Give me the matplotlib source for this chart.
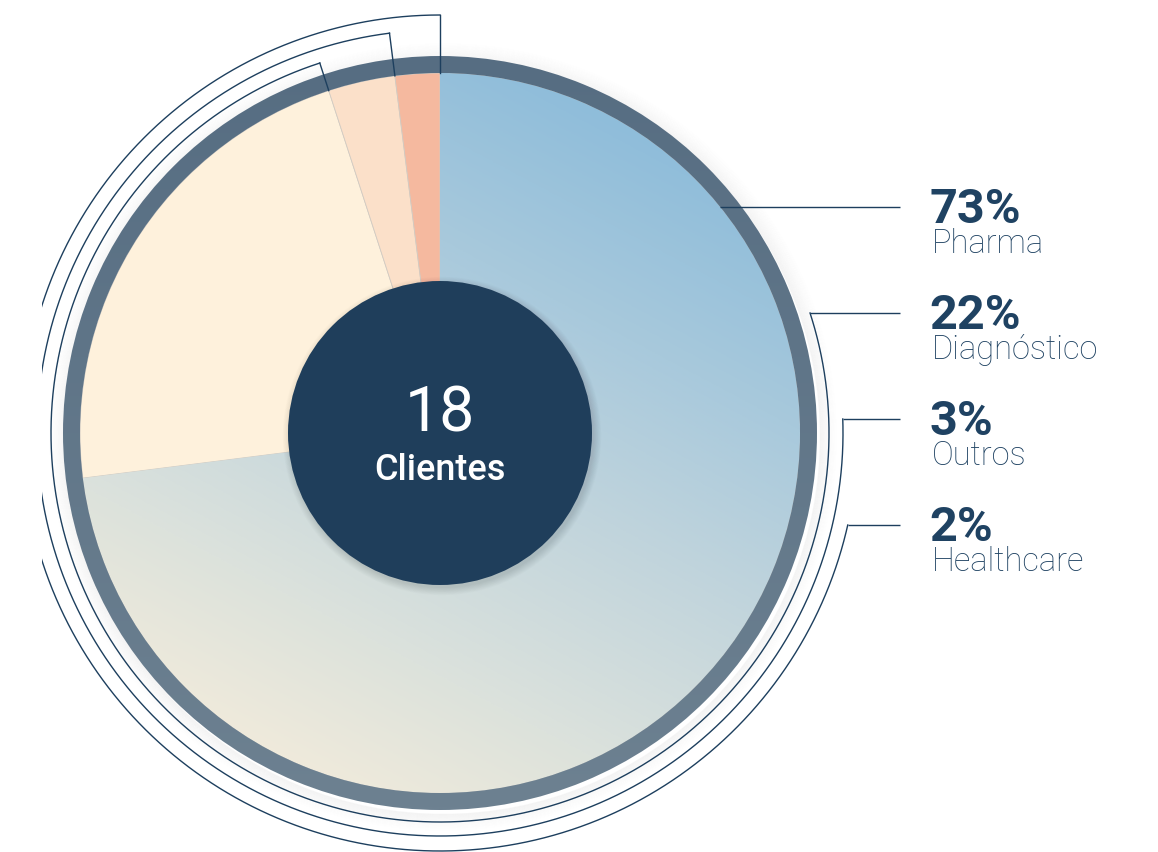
import numpy as np
import matplotlib.pyplot as plt
from matplotlib.patches import Circle, Wedge, Rectangle
from matplotlib.colors import LinearSegmentedColormap

# ---- data ----
categories = ["Pharma", "Diagnóstico", "Outros", "Healthcare"]
shares = [73, 22, 3, 2]
pct_labels = ["73%", "22%", "3%", "2%"]
total_clients = "18"
center_label = "Clientes"

# ---- canvas in pixel units (y up) ----
W, H = 1158, 853
fig = plt.figure(figsize=(W / 100, H / 100), dpi=100)
ax = fig.add_axes([0, 0, 1, 1])

cx, cy = 440, H - 434
R = 360
ring_w = 17
navy = "#1d3f5e"
text_navy = "#1f4262"

plt.rcParams["font.family"] = ["Roboto", "DejaVu Sans"]

# soft shadow outside the ring
for k in range(18):
    a = 0.07 * (1 - k / 18) ** 1.5
    ax.add_patch(Wedge((cx + 3, cy - 4), R + ring_w + k + 1, 0, 360, width=1.2,
                       facecolor="#7a7a7a", edgecolor="none", alpha=a, zorder=1))

# pie slices, clockwise from 12 o'clock
slice_colors = ["none", "#fef1dc", "#fbe0c9", "#f5b99f"]
wedges, _ = ax.pie(shares, center=(cx, cy), radius=R, startangle=90,
                   counterclock=False, colors=slice_colors, frame=True,
                   wedgeprops=dict(linewidth=0.6, edgecolor="#d2cbc2", zorder=2))

# gradient fill for the Pharma slice
grad = LinearSegmentedColormap.from_list(
    "pharma", [(0.0, "#8fbdda"), (0.26, "#a8c9dc"), (0.5, "#c0d4dc"),
               (0.8, "#dce2dc"), (1.0, "#efeadb")])
n = 600
xs = np.linspace(cx - R, cx + R, n)
ys = np.linspace(cy - R, cy + R, n)
X, Y = np.meshgrid(xs, ys)
ang = np.deg2rad(62)
proj = ((X - cx) * -np.cos(ang) + (Y - cy) * -np.sin(ang)) / R
T = np.clip(proj * 0.5 + 0.5, 0, 1)
im = ax.imshow(T, cmap=grad, extent=(cx - R, cx + R, cy - R, cy + R),
               origin="lower", zorder=2.1, interpolation="bilinear")
im.set_clip_path(wedges[0])

# outer ring with a slight vertical gradient
ring = Wedge((cx, cy), R + ring_w, 0, 360, width=ring_w, facecolor="none",
             edgecolor="none", zorder=3)
ax.add_patch(ring)
ring_cmap = LinearSegmentedColormap.from_list("ring", ["#6d8191", "#566d82"])
ext = R + ring_w
X2, Y2 = np.meshgrid(np.linspace(cx - ext, cx + ext, n),
                     np.linspace(cy - ext, cy + ext, n))
rim = ax.imshow((Y2 - (cy - ext)) / (2 * ext), cmap=ring_cmap,
                extent=(cx - ext, cx + ext, cy - ext, cy + ext), origin="lower",
                zorder=3, interpolation="bilinear")
rim.set_clip_path(ring)

# centre disc
for k in range(10):
    ax.add_patch(Circle((cx + 2, cy - 3), 152 + k * 0.8, facecolor="#000000",
                        alpha=0.012, edgecolor="none", zorder=4))
ax.add_patch(Circle((cx, cy), 152, facecolor="#1f3e5b", edgecolor="none", zorder=4.1))
ax.text(cx, H - 432, total_clients, color="white", fontsize=45, ha="center",
        va="baseline", fontweight="normal", zorder=5)
ax.text(cx, H - 480, center_label, color="white", fontsize=26, ha="center",
        va="baseline", fontweight="medium", zorder=5)

# ---- leader lines and labels ----
line_y = [208, 314, 420, 526]      # label rows (image px from top)
arc_r = [None, 389, 403, 418]      # radius of each leader arc
x_end = 900
x_text = 932

bounds = np.cumsum([0] + shares) / sum(shares) * 360.0  # clockwise from top
lw = 1.0

for i, cat in enumerate(categories):
    yl = H - line_y[i]
    if arc_r[i] is None:
        # straight line from the slice edge
        x0 = cx + np.sqrt(R ** 2 - (yl - cy) ** 2)
        ax.plot([x0, x_end], [yl, yl], color=navy, lw=lw, zorder=6,
                solid_capstyle="butt")
    else:
        r = arc_r[i]
        end_cw = bounds[i + 1]                     # slice's trailing edge
        start_math = 90 - end_cw
        if start_math < 0:
            start_math += 360
        stop_math = np.degrees(np.arcsin((yl - cy) / r)) + 360
        th = np.deg2rad(np.linspace(start_math, stop_math, 800))
        ax.plot(cx + r * np.cos(th), cy + r * np.sin(th), color=navy, lw=lw,
                zorder=6)
        # radial tick from the pie edge to the arc
        t0 = np.deg2rad(start_math)
        ax.plot([cx + R * np.cos(t0), cx + r * np.cos(t0)],
                [cy + R * np.sin(t0), cy + r * np.sin(t0)], color=navy, lw=lw,
                zorder=6)
        xa = cx + r * np.cos(np.deg2rad(stop_math))
        ax.plot([xa, x_end], [yl, yl], color=navy, lw=lw, zorder=6,
                solid_capstyle="butt")

    ax.text(x_text - 3, yl - 15, pct_labels[i], color=text_navy, fontsize=35,
            fontweight="bold", ha="left", va="baseline", zorder=6)
    ax.text(x_text, yl - 45, cat, color=text_navy, fontsize=23.5,
            fontweight="light", ha="left", va="baseline", zorder=6)

# left margin is cut clean
ax.add_patch(Rectangle((0, 0), 42, H, facecolor="white", edgecolor="none", zorder=10))

ax.set_xlim(0, W)
ax.set_ylim(0, H)
ax.set_aspect("equal")
ax.axis("off")

fig.savefig("out.png", dpi=100, facecolor="white")
